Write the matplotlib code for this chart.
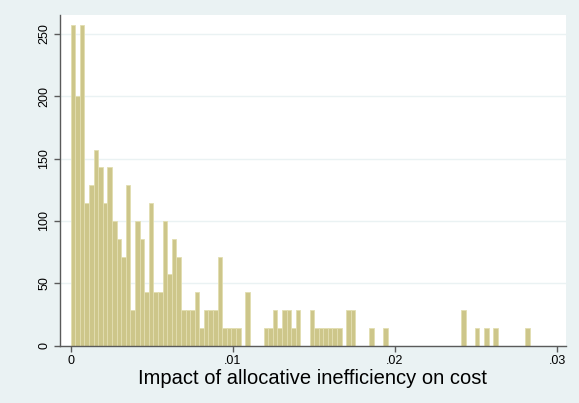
import numpy as np
import matplotlib.pyplot as plt

plt.rcParams['font.family'] = ['Liberation Sans', 'DejaVu Sans']

# histogram: 100 bins starting at 0, width
bin_start = 0.0
bin_width = 0.0002833
heights = [
    257.1, 200.0, 257.1, 114.3, 128.6, 157.1, 142.9, 114.3, 142.9, 100.0,   # 0-9
    85.7, 71.4, 128.6, 28.6, 100.0, 85.7, 42.9, 114.3, 42.9, 42.9,          # 10-19
    100.0, 57.1, 85.7, 71.4, 28.6, 28.6, 28.6, 42.9, 14.3, 28.6,            # 20-29
    28.6, 28.6, 71.4, 14.3, 14.3, 14.3, 14.3, 0, 42.9, 0,                   # 30-39
    0, 0, 14.3, 14.3, 28.6, 14.3, 28.6, 28.6, 14.3, 28.6,                   # 40-49
    0, 0, 28.6, 14.3, 14.3, 14.3, 14.3, 14.3, 14.3, 0,                      # 50-59
    28.6, 28.6, 0, 0, 0, 14.3, 0, 0, 14.3, 0,                               # 60-69
    0, 0, 0, 0, 0, 0, 0, 0, 0, 0,                                           # 70-79
    0, 0, 0, 0, 0, 28.6, 0, 0, 14.3, 0,                                     # 80-89
    14.3, 0, 14.3, 0, 0, 0, 0, 0, 0, 14.3,                                  # 90-99
]
x_ticks = [0, 0.01, 0.02, 0.03]
x_labels = ['0', '.01', '.02', '.03']
y_ticks = [0, 50, 100, 150, 200, 250]
x_title = 'Impact of allocative inefficiency on cost'

bg = '#eaf2f3'
bar_fill = '#cdc68a'
bar_edge = '#e2deb0'
axis_col = '#5a5a5a'

fig = plt.figure(figsize=(5.79, 4.03), dpi=100, facecolor=bg)
ax = fig.add_axes([0.1036, 0.1422, 0.8739, 0.8206])
ax.set_facecolor('white')

lefts = bin_start + bin_width * np.arange(len(heights))
ax.bar(lefts, heights, width=bin_width, align='edge',
       color=bar_fill, edgecolor=bar_edge, linewidth=0.6, zorder=2)

ax.set_xlim(-0.00066, 0.03055)
ax.set_ylim(0, 265)

ax.set_yticks(y_ticks)
ax.set_yticklabels([str(v) for v in y_ticks], rotation=90, va='center', fontsize=9)
ax.set_xticks(x_ticks)
ax.set_xticklabels(x_labels, fontsize=9)
ax.set_xlabel(x_title, fontsize=14.5, labelpad=1)

ax.yaxis.grid(True, color=bg, linewidth=1.0, zorder=0)
ax.set_axisbelow(True)

for side in ['top', 'right']:
    ax.spines[side].set_visible(False)
for side in ['left', 'bottom']:
    ax.spines[side].set_color(axis_col)
    ax.spines[side].set_linewidth(1.0)
ax.tick_params(colors=axis_col, labelcolor='black', length=4, width=1.0, pad=3)

fig.savefig('out.png', dpi=100, facecolor=bg)
